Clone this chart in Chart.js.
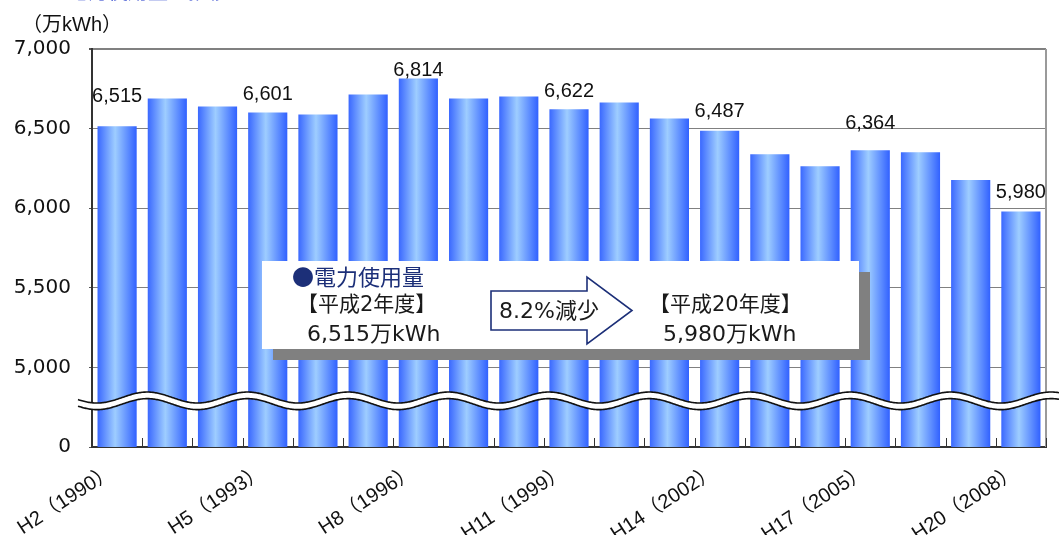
<!DOCTYPE html>
<html lang="ja">
<head>
<meta charset="utf-8">
<title>電力使用量の推移</title>
<script src="https://cdn.jsdelivr.net/npm/chart.js@4.4.1/dist/chart.umd.min.js"></script>
<style>
  html, body { margin: 0; padding: 0; background: #ffffff; }
  #wrap { width: 1059px; height: 535px; position: relative; }
</style>
</head>
<body>
<div id="wrap"><canvas id="chart" width="1059" height="535"></canvas></div>
<script>
// Fiscal years (Heisei era with Western year)
const fiscalYears = [
  'H2（1990）', 'H3（1991）', 'H4（1992）', 'H5（1993）', 'H6（1994）',
  'H7（1995）', 'H8（1996）', 'H9（1997）', 'H10（1998）', 'H11（1999）',
  'H12（2000）', 'H13（2001）', 'H14（2002）', 'H15（2003）', 'H16（2004）',
  'H17（2005）', 'H18（2006）', 'H19（2007）', 'H20（2008）'
];

// Electricity usage, 万kWh
const usage = [
  6515, 6689, 6639, 6601, 6589, 6714, 6814, 6689, 6702, 6622,
  6664, 6564, 6487, 6339, 6264, 6364, 6352, 6177, 5980
];

// Broken value axis: the bottom tick stands for 0, the rest run 5,000–7,000
const yTickLabels = ['0', '5,000', '5,500', '6,000', '6,500', '7,000'];

const AXIS_MIN = 4500, AXIS_MAX = 7000, AXIS_STEP = 500;
const BREAK_VALUE = 4790;      // centre of the wavy break band
const BAR_SHARE = 0.78;        // bar width as a share of its category

const fmt = v => v.toLocaleString('en-US');

// Horizontal cylinder-like shading for each bar
function barFill(ctx) {
  const chart = ctx.chart;
  const xs = chart.scales.x;
  const area = chart.chartArea;
  if (!xs || !area || ctx.type !== 'data') return '#6f9bff';
  const cx = xs.getPixelForValue(ctx.dataIndex);
  const hw = (area.right - area.left) / fiscalYears.length * BAR_SHARE / 2;
  const g = chart.ctx.createLinearGradient(cx - hw, 0, cx + hw, 0);
  g.addColorStop(0, '#3a68ff');
  g.addColorStop(0.45, '#9ecdff');
  g.addColorStop(1, '#3161ff');
  return g;
}

const decorations = {
  id: 'decorations',
  beforeDraw(chart) {
    const c = chart.ctx;
    c.save();
    c.fillStyle = '#ffffff';
    c.fillRect(0, 0, chart.width, chart.height);
    c.restore();
  },
  afterDatasetsDraw(chart) {
    const c = chart.ctx;
    const area = chart.chartArea;
    const xs = chart.scales.x;
    const ys = chart.scales.y;
    const n = fiscalYears.length;
    const cat = (area.right - area.left) / n;

    c.save();
    // right frame line
    c.strokeStyle = '#9a9a9a';
    c.lineWidth = 2;
    c.beginPath();
    c.moveTo(area.right, area.top);
    c.lineTo(area.right, area.bottom);
    c.stroke();

    // category separators rising from the baseline
    c.strokeStyle = '#333333';
    c.lineWidth = 1;
    for (let i = 1; i <= n; i++) {
      const x = Math.round(xs.getPixelForValue(i - 0.5)) + 0.5;
      c.beginPath();
      c.moveTo(x, area.bottom);
      c.lineTo(x, area.bottom - 9);
      c.stroke();
    }

    // wavy axis break
    const yc = ys.getPixelForValue(BREAK_VALUE);
    const half = 3.3, amp = 5.5, period = cat * 2;
    const phase = area.left + cat * 1.1;
    const x0 = area.left - 14, x1 = chart.width;
    const waveY = x => -amp * Math.cos(2 * Math.PI * (x - phase) / period);
    c.beginPath();
    for (let x = x0; x <= x1; x += 1) c.lineTo(x, yc - half + waveY(x));
    for (let x = x1; x >= x0; x -= 1) c.lineTo(x, yc + half + waveY(x));
    c.closePath();
    c.fillStyle = '#ffffff';
    c.fill();
    c.strokeStyle = '#111111';
    c.lineWidth = 1.6;
    [-half, half].forEach(off => {
      c.beginPath();
      for (let x = x0; x <= x1; x += 1) c.lineTo(x, yc + off + waveY(x));
      c.stroke();
    });
    c.restore();
  },
  afterDraw(chart, args, opts) {
    const c = chart.ctx;
    const meta = chart.getDatasetMeta(0);
    c.save();

    // value labels on every third year
    c.fillStyle = '#111111';
    c.font = '20px "Liberation Sans", Arial, sans-serif';
    c.textAlign = 'center';
    c.textBaseline = 'alphabetic';
    let k = 0;
    meta.data.forEach((bar, i) => {
      if (i % 3 !== 0) return;
      const lift = opts.labelLift[k++] ?? 13;
      c.fillText(fmt(usage[i]), bar.x, bar.y - lift);
    });

    // unit caption
    c.textAlign = 'left';
    c.textBaseline = 'middle';
    c.font = '20px "Liberation Sans", "Noto Sans CJK JP", sans-serif';
    c.fillText('（万kWh）', 22, 25);

    // heading (runs off the top edge)
    c.fillStyle = '#1a33c8';
    c.font = '20px "Noto Sans CJK JP", sans-serif';
    c.textBaseline = 'alphabetic';
    c.fillText('●電力使用量の推移', 48, -1);

    // callout comparing first and last year
    const bx = 262, by = 261, bw = 597, bh = 88;
    c.fillStyle = '#808080';
    c.fillRect(bx + 11, by + 11, bw, bh);
    c.fillStyle = '#ffffff';
    c.fillRect(bx, by, bw, bh);

    const first = usage[0], last = usage[usage.length - 1];
    const drop = ((first - last) / first * 100).toFixed(1);
    const mixed = '"DejaVu Sans", "Noto Sans CJK JP", sans-serif';

    c.textBaseline = 'middle';
    c.fillStyle = '#1c2f78';
    c.font = '22px "Noto Sans CJK JP", sans-serif';
    c.fillText('●電力使用量', 292, 277);

    c.fillStyle = '#1a1a1a';
    c.font = '21px ' + mixed;
    c.fillText('【平成2年度】', 297, 306);
    c.fillText('【平成20年度】', 649, 306);
    c.font = '22px ' + mixed;
    c.fillText(fmt(first) + '万kWh', 307, 335);
    c.fillText(fmt(last) + '万kWh', 663, 335);

    // block arrow
    c.beginPath();
    c.moveTo(491, 291);
    c.lineTo(587, 291);
    c.lineTo(587, 277);
    c.lineTo(632, 310.5);
    c.lineTo(587, 344);
    c.lineTo(587, 330);
    c.lineTo(491, 330);
    c.closePath();
    c.fillStyle = '#ffffff';
    c.fill();
    c.strokeStyle = '#1c2f78';
    c.lineWidth = 1.6;
    c.stroke();

    c.fillStyle = '#1a1a1a';
    c.font = '22px ' + mixed;
    c.fillText(drop + '%減少', 499, 312);

    c.restore();
  }
};

new Chart(document.getElementById('chart'), {
  type: 'bar',
  data: {
    labels: fiscalYears,
    datasets: [{
      data: usage,
      backgroundColor: barFill,
      borderWidth: 0,
      categoryPercentage: BAR_SHARE,
      barPercentage: 1.0
    }]
  },
  options: {
    responsive: false,
    devicePixelRatio: 1,
    animation: false,
    layout: { padding: { top: 49, right: 13, left: 0, bottom: 0 } },
    plugins: {
      legend: { display: false },
      tooltip: { enabled: false },
      decorations: { labelLift: [24, 13, 3, 12, 14, 21, 13] }
    },
    scales: {
      x: {
        afterFit(scale) { scale.height = 88; },
        grid: { display: true, drawOnChartArea: false, drawTicks: false },
        border: { color: '#333333', width: 2 },
        ticks: {
          autoSkip: false,
          minRotation: 33,
          maxRotation: 33,
          padding: 13,
          labelOffset: -5,
          color: '#111111',
          font: { family: '"Liberation Sans", "Noto Sans CJK JP", sans-serif', size: 20 },
          callback: (v, i) => (i % 3 === 0 ? fiscalYears[i] : '')
        }
      },
      y: {
        min: AXIS_MIN,
        max: AXIS_MAX,
        afterFit(scale) { scale.width = 92; },
        grid: {
          color: '#808080',
          lineWidth: ctx => (ctx.tick && ctx.tick.value === AXIS_MAX ? 2 : 1),
          tickLength: 3,
          tickColor: '#555555'
        },
        border: { color: '#333333', width: 2 },
        ticks: {
          stepSize: AXIS_STEP,
          padding: 18,
          color: '#111111',
          font: { family: '"DejaVu Sans", sans-serif', size: 20 },
          callback: (v, i) => yTickLabels[i]
        }
      }
    }
  },
  plugins: [decorations]
});
</script>
</body>
</html>
